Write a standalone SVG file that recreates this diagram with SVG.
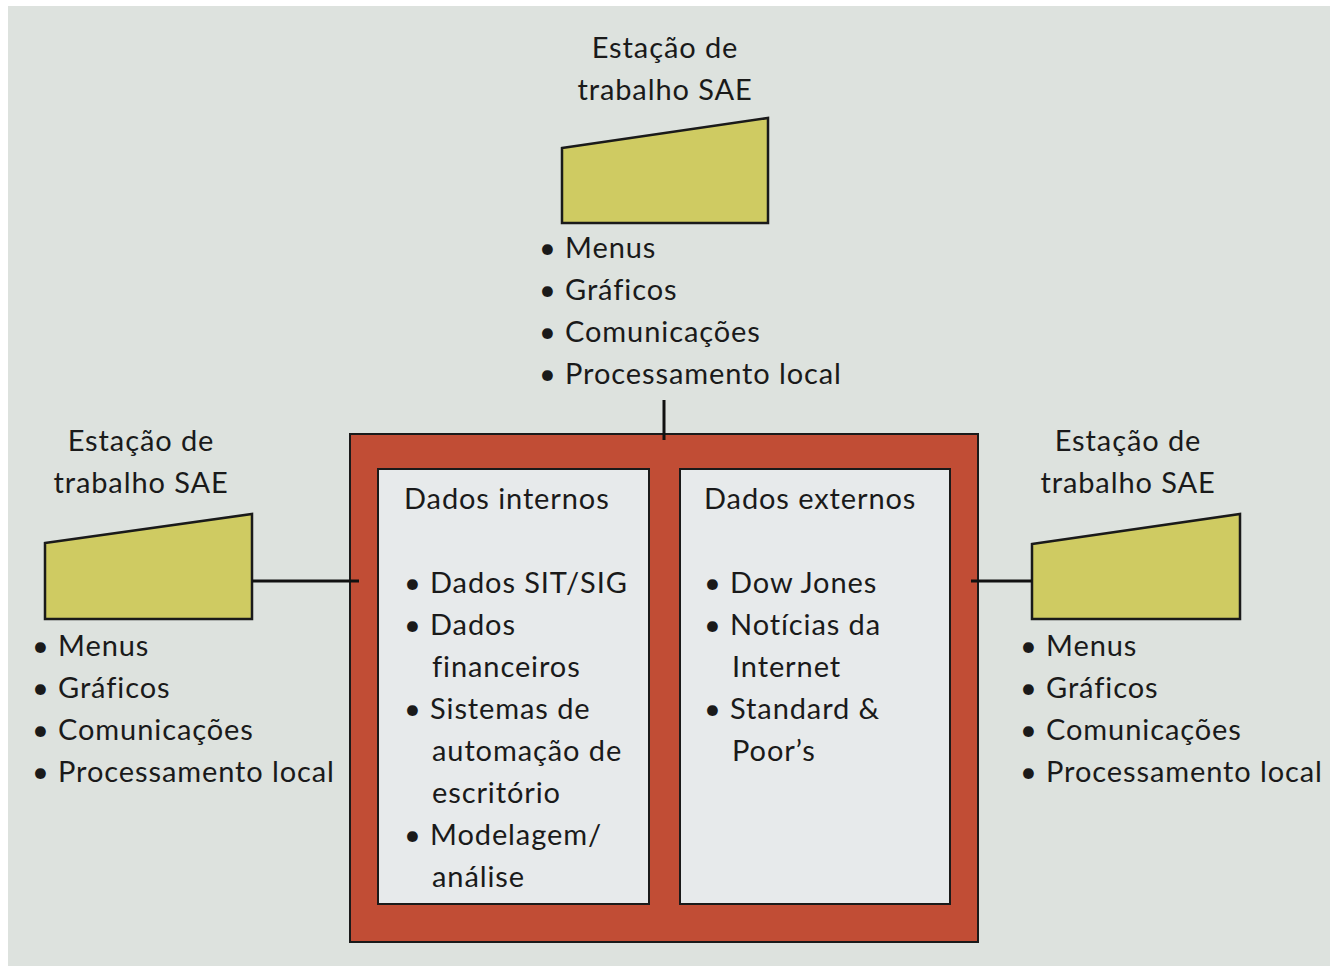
<svg xmlns="http://www.w3.org/2000/svg" width="1330" height="966" viewBox="0 0 1330 966">
<style>
.t{font-family:Lato,"Open Sans","Liberation Sans",sans-serif;font-size:29px;letter-spacing:0.9px;fill:#1a1a1a}
.c{text-anchor:middle}
.scr{fill:#cfcb62;stroke:#1a1a1a;stroke-width:2.5}
.box{fill:#e7eaeb;stroke:#1a1a1a;stroke-width:2}
.ln{stroke:#111;stroke-width:3;fill:none}
</style>
<rect x="0" y="0" width="1330" height="966" fill="#ffffff"/>
<rect x="8" y="6" width="1322" height="960" fill="#dde2de"/>
<g id="server">
<rect x="350" y="434" width="628" height="508" fill="#c14d35" stroke="#1a1a1a" stroke-width="2"/>
<rect class="box" x="378" y="469" width="271" height="435"/>
<rect class="box" x="680" y="469" width="270" height="435"/>
<text class="t" x="404" y="509">Dados internos</text>
<text class="t" x="404" y="593">• Dados SIT/SIG</text>
<text class="t" x="404" y="635">• Dados</text>
<text class="t" x="432" y="677">financeiros</text>
<text class="t" x="404" y="719">• Sistemas de</text>
<text class="t" x="432" y="761">automação de</text>
<text class="t" x="432" y="803">escritório</text>
<text class="t" x="404" y="845">• Modelagem/</text>
<text class="t" x="432" y="887">análise</text>
<text class="t" x="704" y="509">Dados externos</text>
<text class="t" x="704" y="593">• Dow Jones</text>
<text class="t" x="704" y="635">• Notícias da</text>
<text class="t" x="732" y="677">Internet</text>
<text class="t" x="704" y="719">• Standard &amp;</text>
<text class="t" x="732" y="761">Poor’s</text>
</g>
<g id="station-top">
<text class="t c" x="665" y="58">Estação de</text>
<text class="t c" x="665" y="100">trabalho SAE</text>
<polygon class="scr" points="562,148 768,118 768,223 562,223"/>
<text class="t" x="539" y="258">• Menus</text>
<text class="t" x="539" y="300">• Gráficos</text>
<text class="t" x="539" y="342">• Comunicações</text>
<text class="t" x="539" y="384">• Processamento local</text>
</g>
<g id="station-left">
<text class="t c" x="141" y="451">Estação de</text>
<text class="t c" x="141" y="493">trabalho SAE</text>
<polygon class="scr" points="45,543 252,514 252,619 45,619"/>
<text class="t" x="32" y="656">• Menus</text>
<text class="t" x="32" y="698">• Gráficos</text>
<text class="t" x="32" y="740">• Comunicações</text>
<text class="t" x="32" y="782">• Processamento local</text>
</g>
<g id="station-right">
<text class="t c" x="1128" y="451">Estação de</text>
<text class="t c" x="1128" y="493">trabalho SAE</text>
<polygon class="scr" points="1032,544 1240,514 1240,619 1032,619"/>
<text class="t" x="1020" y="656">• Menus</text>
<text class="t" x="1020" y="698">• Gráficos</text>
<text class="t" x="1020" y="740">• Comunicações</text>
<text class="t" x="1020" y="782">• Processamento local</text>
</g>
<g id="connectors">
<line class="ln" x1="664" y1="400" x2="664" y2="440"/>
<line class="ln" x1="252" y1="581" x2="359" y2="581"/>
<line class="ln" x1="971" y1="581" x2="1032" y2="581"/>
</g>
</svg>
